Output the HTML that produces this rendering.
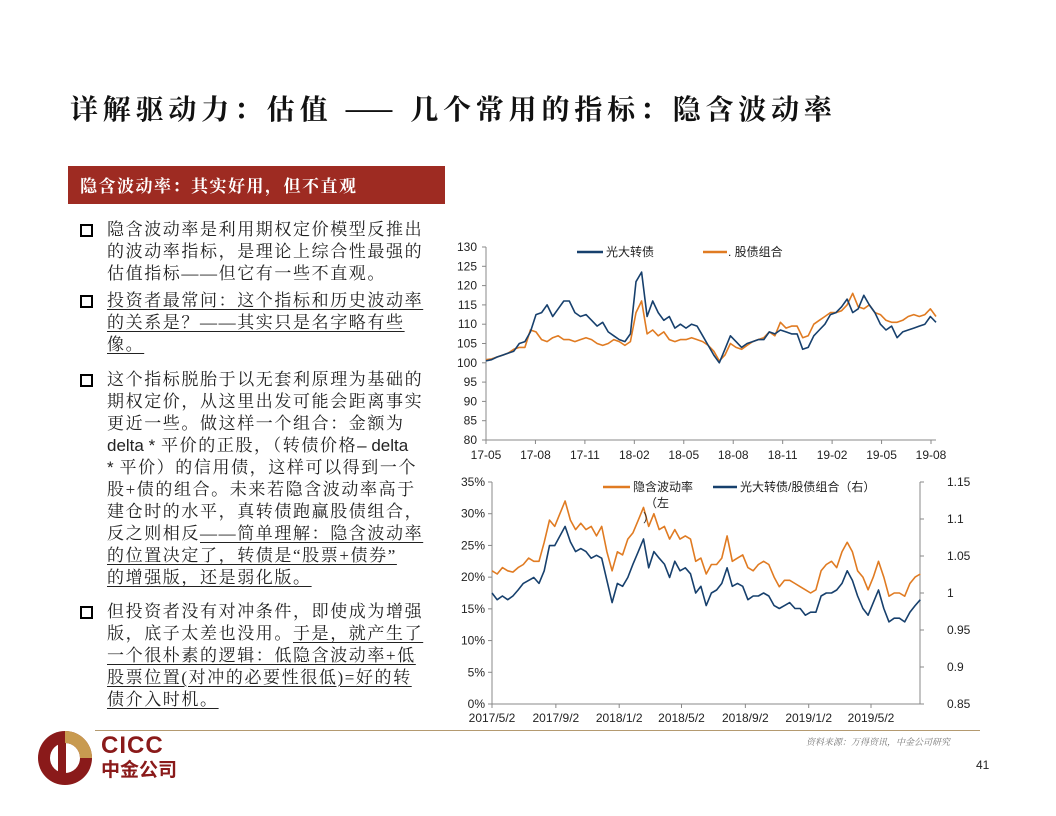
<!DOCTYPE html>
<html><head><meta charset="utf-8">
<style>
body{margin:0;background:#fff;}
#page{position:relative;width:1056px;height:816px;overflow:hidden;background:#fff;font-family:"Liberation Serif","Noto Serif CJK SC",serif;}
.t{position:absolute;white-space:nowrap;font-size:17px;letter-spacing:1.6px;color:#222;font-family:"Liberation Serif","Noto Serif CJK SC",serif;line-height:22px;}
.u{text-decoration:underline;text-underline-offset:3px;}
.sq{position:absolute;width:9px;height:9px;border:2.5px solid #000;}
.lat{font-family:"Liberation Sans",sans-serif;letter-spacing:0;}
svg text{font-family:"Liberation Sans","Noto Sans CJK SC",sans-serif;}
</style></head>
<body>
<div id="page">
<div style="position:absolute;left:70px;top:88px;font-size:28px;font-weight:bold;letter-spacing:4.8px;white-space:nowrap;font-family:'Noto Serif CJK SC',serif;color:#111;">详解驱动力：估值 —— 几个常用的指标：隐含波动率</div>
<div style="position:absolute;left:68px;top:166px;width:377px;height:38px;background:#9e2b22;color:#fff;font-size:17px;letter-spacing:1.5px;font-weight:bold;line-height:38px;box-sizing:border-box;padding-left:12px;font-family:'Noto Serif CJK SC',serif;white-space:nowrap;">隐含波动率：其实好用，但不直观</div>

<div class="sq" style="left:80px;top:224px;"></div>
<div class="t" style="left:107px;top:219px;">隐含波动率是利用期权定价模型反推出<br>的波动率指标，是理论上综合性最强的<br>估值指标——但它有一些不直观。</div>

<div class="sq" style="left:80px;top:295px;"></div>
<div class="t u" style="left:107px;top:290px;">投资者最常问：这个指标和历史波动率<br>的关系是？——其实只是名字略有些<br>像。</div>

<div class="sq" style="left:80px;top:374px;"></div>
<div class="t" style="left:107px;top:369px;">这个指标脱胎于以无套利原理为基础的<br>期权定价，从这里出发可能会距离事实<br>更近一些。做这样一个组合：金额为<br><span class="lat">delta *</span> 平价的正股，（转债价格<span class="lat">– delta</span><br><span class="lat">*</span> 平价）的信用债，这样可以得到一个<br>股+债的组合。未来若隐含波动率高于<br>建仓时的水平，真转债跑赢股债组合，<br>反之则相反<span class="u">——简单理解：隐含波动率</span><br><span class="u">的位置决定了，转债是“股票+债券”</span><br><span class="u">的增强版，还是弱化版。</span></div>

<div class="sq" style="left:80px;top:606px;"></div>
<div class="t" style="left:107px;top:601px;">但投资者没有对冲条件，即使成为增强<br>版，底子太差也没用。<span class="u">于是，就产生了</span><br><span class="u">一个很朴素的逻辑：低隐含波动率+低</span><br><span class="u">股票位置(对冲的必要性很低)=好的转</span><br><span class="u">债介入时机。</span></div>

<svg id="c1" style="position:absolute;left:0;top:0" width="1056" height="816"></svg>

<div style="position:absolute;left:95px;top:730px;width:885px;height:1px;background:#b49a70;"></div>
<div style="position:absolute;left:806px;top:735px;font-size:9px;font-style:italic;color:#777;font-family:'Noto Serif CJK SC',serif;white-space:nowrap;">资料来源：万得资讯，中金公司研究</div>
<div style="position:absolute;left:976px;top:758px;font-size:12px;font-family:'Liberation Sans',sans-serif;color:#222;">41</div>
<svg style="position:absolute;left:36px;top:729px" width="62" height="58">
<circle cx="29" cy="29" r="27" fill="#8a1a1a"/>
<circle cx="29" cy="29" r="15" fill="#fff"/>
<rect x="22" y="14" width="8" height="30" fill="#8a1a1a"/>
<path d="M29 2 A27 27 0 0 1 56 29 L44 29 A15 15 0 0 0 29 14Z" fill="#c89a50"/>
</svg>
<div style="position:absolute;left:101px;top:734px;color:#8a1a1a;font-family:'Liberation Sans',sans-serif;font-weight:bold;font-size:24px;line-height:24px;letter-spacing:1px;">CICC</div>
<div style="position:absolute;left:101px;top:758px;color:#8a1a1a;font-family:'Noto Sans CJK SC',sans-serif;font-weight:bold;font-size:19px;line-height:22px;">中金公司</div>
</div>

<script>
// ---- Chart 1 data (3 points per month from 2017-05, ~10 days apart) ----
const c1TickLabels=["17-05","17-08","17-11","18-02","18-05","18-08","18-11","19-02","19-05","19-08"];
const c1YTicks=[80,85,90,95,100,105,110,115,120,125,130];
const c1Bond=[100.5,100.8,101.5,102,102.5,103,105,105.5,108,112.5,113,115,112,114,116,116,113,112,112.5,111,109.5,110.5,108,107,106,105.5,107.5,121,123.5,112,116,113,111,112,109,110,109,110,109.5,107,104.5,102,100,103.5,107,105.5,104,105,105.5,106,106,108,107.5,108.5,108,107.5,107.5,103.5,104,107,108.5,110,112.5,113,114.5,116.5,113,114,117.5,115,113,110,108.5,109.5,106.5,108,108.5,109,109.5,110,112,110.5];
const c1Mix=[100.8,101,101.5,102,102.5,103.5,104,104,108.5,108,106,105.5,106.5,107,106,106,105.5,106,106.5,106,105,104.5,105,106,105.5,104.5,105.5,113,116,107.5,108.5,107,108,106,105.5,106,106,106.5,106,105.5,104.5,103,100.5,102,105,104,103.5,104.5,105.5,106,106.5,108,107,110.5,109,109.5,109.5,106.5,107,110,111,112,113,113,113.5,115,118,114.5,114,115,113,112.5,111,110.5,110.5,111,112,112.5,112,112.5,114,112];
// ---- Chart 2 data ----
const c2TickLabels=["2017/5/2","2017/9/2","2018/1/2","2018/5/2","2018/9/2","2019/1/2","2019/5/2"];
const c2TickDays=[0,123,245,365,488,610,730];
const c2LeftTicks=[0,5,10,15,20,25,30,35];
const c2RightTicks=[0.85,0.9,0.95,1,1.05,1.1,1.15];
const c2Vol=[21,20.5,21.5,21,20.8,21.5,22,23,22.5,22.5,25.5,29,28,30,32,29,27.5,28.5,27.5,28,26.5,28,24,21,24,23.5,26,27,29,31,28,30,27.5,28,26,27.5,26,26.5,26,22.5,23,20.5,22,22,23,26.5,22.5,23,23.5,21.5,21,22,22.5,22,20,18.5,19.5,19.5,19,18.5,18,17.5,18,21,22,22.5,21.5,24,25.5,24,21,20,18,20,22.5,20,17,17.5,17.5,17,19,20,20.5];
const c2Ratio=[1.000,0.991,0.996,0.991,0.996,1.004,1.013,1.017,1.021,1.013,1.030,1.064,1.064,1.077,1.090,1.069,1.056,1.060,1.056,1.047,1.051,1.047,1.017,0.987,1.013,1.009,1.021,1.039,1.056,1.073,1.034,1.056,1.047,1.039,1.021,1.043,1.030,1.034,1.026,1.000,1.009,0.983,1.000,1.004,1.013,1.034,1.009,1.013,1.009,0.991,0.996,0.996,1.000,0.996,0.983,0.979,0.983,0.987,0.979,0.979,0.970,0.974,0.974,0.996,1.000,1.000,1.004,1.013,1.030,1.017,0.996,0.979,0.970,0.987,1.004,0.979,0.961,0.966,0.966,0.961,0.974,0.983,0.991];

const NS="http://www.w3.org/2000/svg";
const svg=document.getElementById('c1');
function mk(tag,attrs,parent){const e=document.createElementNS(NS,tag);for(const k in attrs)e.setAttribute(k,attrs[k]);(parent||svg).appendChild(e);return e;}
function txt(s,x,y,anchor,size){const e=mk('text',{x:x,y:y,'text-anchor':anchor,'font-size':size||12,fill:'#222'});e.textContent=s;return e;}

// Chart 1 axes
const X0=486,X1=931,Y0=440,Y1=247;
const yv=v=>Y0-(v-80)/50*(Y0-Y1);
const xi=i=>X0+(i/(c1Bond.length-1))*(936-X0);
let e;
e=mk('line',{x1:X0,y1:Y1,x2:X0,y2:Y0,stroke:'#888'});

e=mk('line',{x1:X0,y1:Y0,x2:X1+5,y2:Y0,stroke:'#888'});

c1YTicks.forEach(v=>{mk('line',{x1:X0-4,x2:X0,y1:yv(v),y2:yv(v),stroke:'#888'});
 e=txt(String(v),477,yv(v)+4,'end',12);
 });
c1TickLabels.forEach((s,i)=>{const x=X0+i*(X1-X0)/(c1TickLabels.length-1);
 mk('line',{x1:x,x2:x,y1:Y0,y2:Y0+4,stroke:'#888'});
 e=txt(s,x,459,'middle',12);
 });
function line(arr,fx,fy,color,name){const d=arr.map((v,i)=>(i?'L':'M')+fx(i).toFixed(1)+' '+fy(v).toFixed(1)).join(' ');
 const p=mk('path',{d:d,fill:'none',stroke:color,'stroke-width':1.6,'stroke-linejoin':'round'});
 }
line(c1Mix,xi,yv,'#e07b22','series-stock-bond-mix');
line(c1Bond,xi,yv,'#17406d','series-everbright-cb');
mk('line',{x1:577,x2:603,y1:252,y2:252,stroke:'#17406d','stroke-width':2.5});
e=txt('光大转债',606,256,'start',12);
mk('line',{x1:703,x2:727,y1:252,y2:252,stroke:'#e07b22','stroke-width':2.5});
e=txt('. 股债组合',728,256,'start',12);

// Chart 2 axes
const L=492,R=920,T=482,B=704;
const pxDay=(871-492)/730;
const yl=v=>B-v/35*(B-T);
const yr=v=>B-(v-0.85)/0.3*(B-T);
const xd=i=>L+(i*825/(c2Vol.length-1))*pxDay;
mk('line',{x1:L,y1:T,x2:L,y2:B,stroke:'#888'});
mk('line',{x1:R,y1:T,x2:R,y2:B,stroke:'#888'});
mk('line',{x1:L,y1:B,x2:R,y2:B,stroke:'#888'});
c2LeftTicks.forEach(v=>{mk('line',{x1:L-4,x2:L,y1:yl(v),y2:yl(v),stroke:'#888'});
 e=txt(v+'%',485,yl(v)+4,'end',12);});
c2RightTicks.forEach(v=>{mk('line',{x1:R,x2:R+4,y1:yr(v),y2:yr(v),stroke:'#888'});
 e=txt(String(v),947,yr(v)+4,'start',12);});
c2TickLabels.forEach((s,i)=>{const x=L+c2TickDays[i]*pxDay;
 mk('line',{x1:x,x2:x,y1:B,y2:B+4,stroke:'#888'});
 e=txt(s,x,722,'middle',12);});
line(c2Vol,xd,yl,'#e07b22','series-implied-vol');
line(c2Ratio,xd,yr,'#17406d','series-cb-mix-ratio');
mk('line',{x1:603,x2:630,y1:487,y2:487,stroke:'#e07b22','stroke-width':2.5});
e=txt('隐含波动率',633,491,'start',12);
txt('（左',645,507,'start',12);txt('）',643,522,'start',12);
mk('line',{x1:713,x2:737,y1:487,y2:487,stroke:'#17406d','stroke-width':2.5});
e=txt('光大转债/股债组合（右）',740,491,'start',12);
</script>
</body></html>
